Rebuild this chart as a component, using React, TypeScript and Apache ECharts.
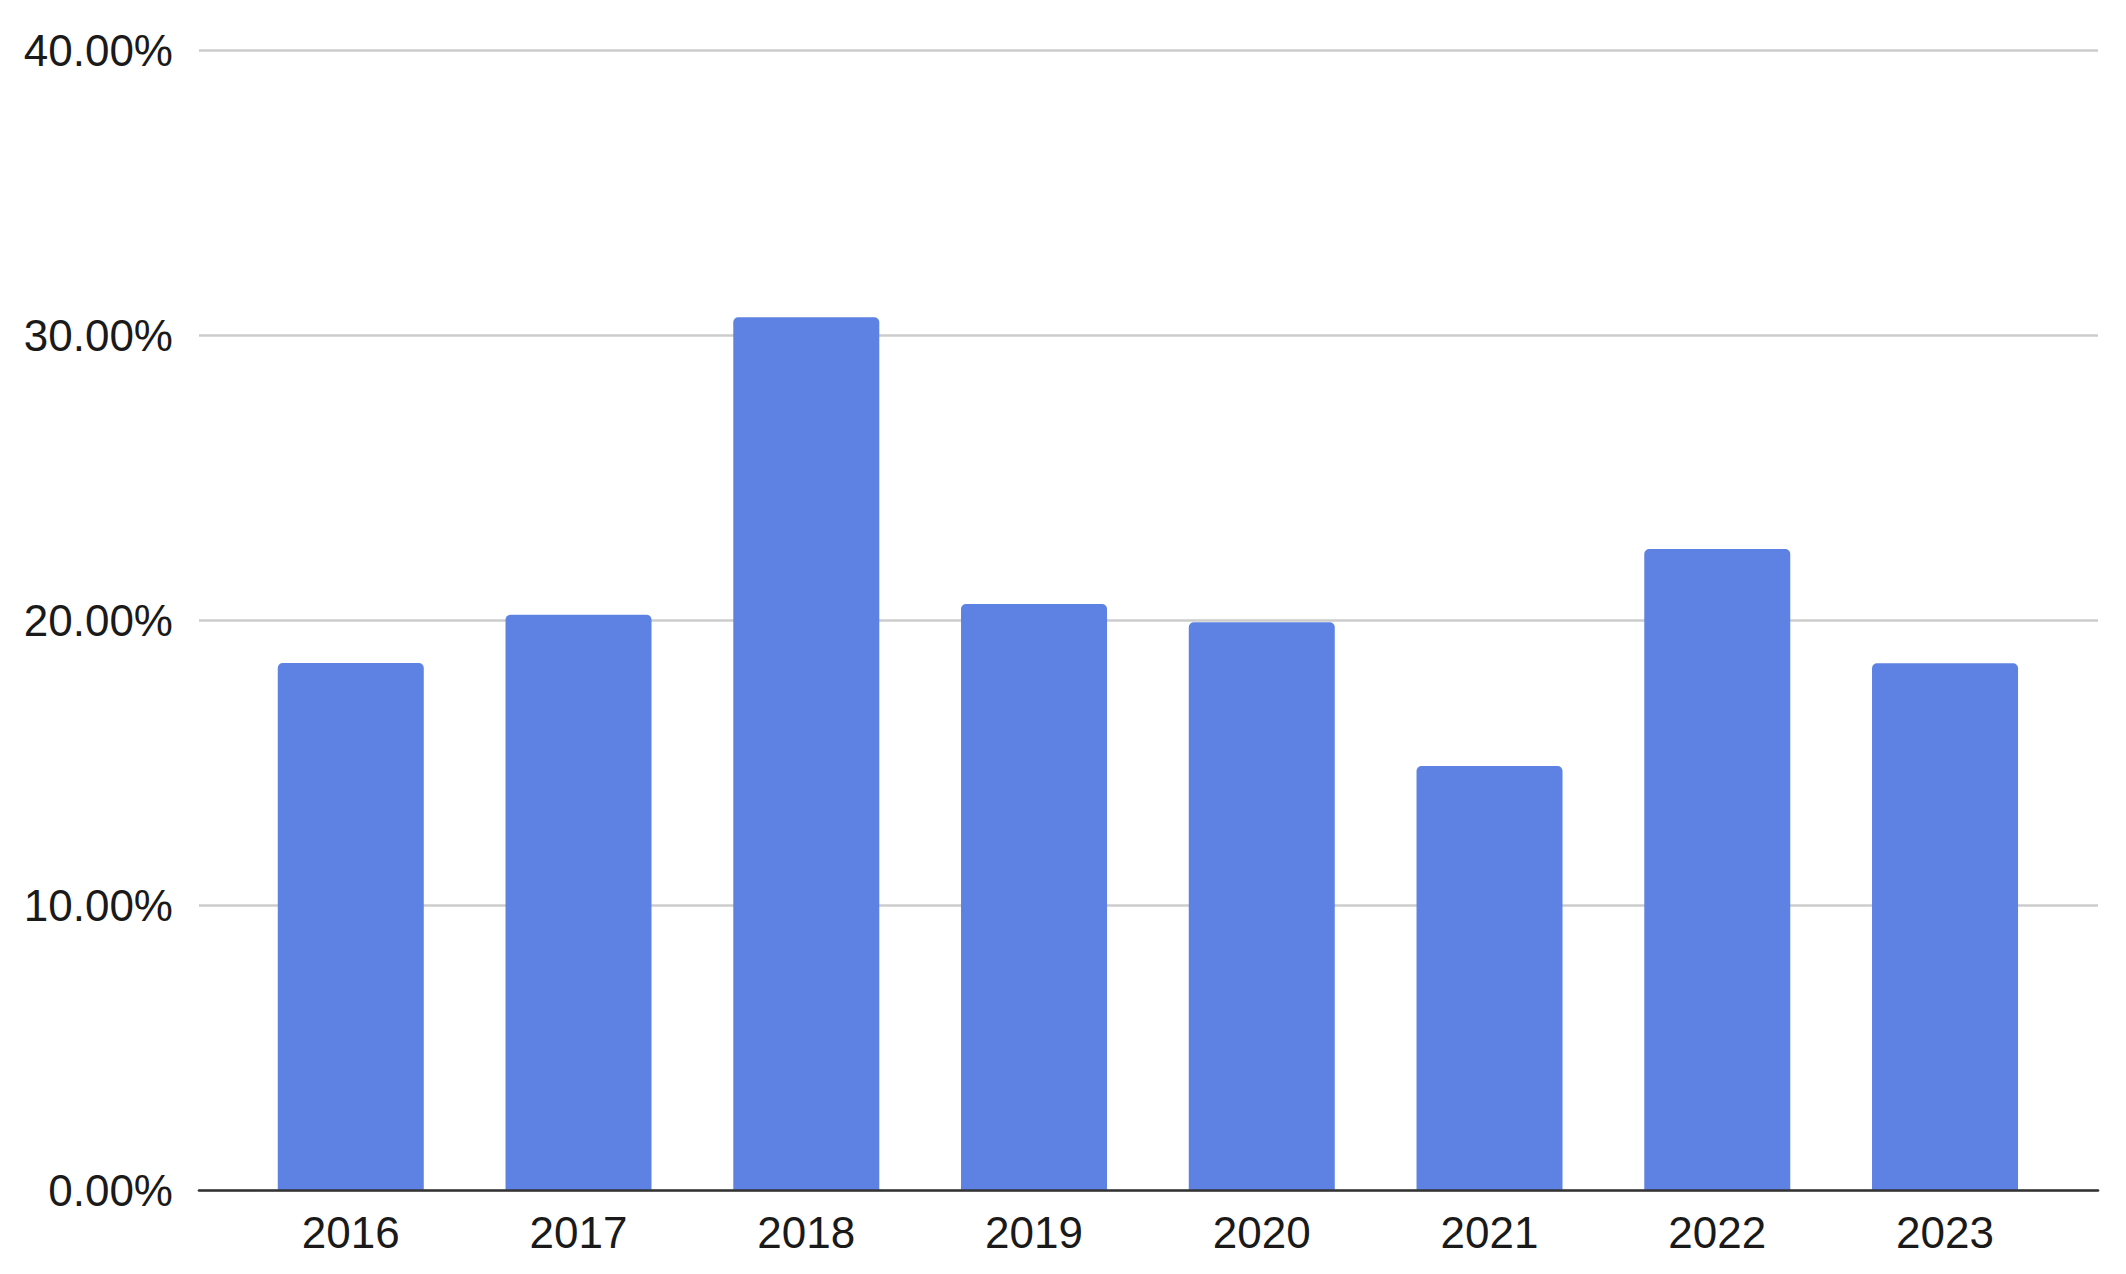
import { useEffect, useRef } from 'react';
import * as echarts from 'echarts';
import type { EChartsOption } from 'echarts';

const years = ['2016', '2017', '2018', '2019', '2020', '2021', '2022', '2023'];
const shares = [18.5, 20.19, 30.63, 20.57, 19.93, 14.89, 22.5, 18.49];
const yTicks = [0, 10, 20, 30, 40];

const FONT = '"Liberation Sans", Arial, sans-serif';

export default function App() {
  const chartRef = useRef<HTMLDivElement>(null);

  useEffect(() => {
    if (!chartRef.current) return;
    const chart = echarts.init(chartRef.current, undefined, { renderer: 'svg' });

    const option: EChartsOption = {
      animation: false,
      backgroundColor: '#ffffff',
      textStyle: { fontFamily: FONT },
      grid: [
        // full-width area: gridlines, y labels and the x axis line
        { left: 199, right: 28, top: 50, bottom: 83.5 },
        // narrower area where the bars sit
        { left: 236.9, right: 67.1, top: 50, bottom: 83.5 },
      ],
      xAxis: [
        {
          gridIndex: 0,
          type: 'category',
          data: years,
          z: 5,
          axisLine: { show: true, lineStyle: { color: '#333333', width: 2.7 } },
          axisTick: { show: false },
          axisLabel: { show: false },
          splitLine: { show: false },
        },
        {
          gridIndex: 1,
          type: 'category',
          data: years,
          axisLine: { show: false },
          axisTick: { show: false },
          axisLabel: {
            color: '#1a1a1a',
            fontSize: 44,
            fontFamily: FONT,
            margin: 20,
          },
        },
      ],
      yAxis: [
        {
          gridIndex: 0,
          type: 'value',
          min: yTicks[0],
          max: yTicks[yTicks.length - 1],
          interval: 10,
          axisLine: { show: false },
          axisTick: { show: false },
          axisLabel: {
            color: '#1a1a1a',
            fontSize: 44,
            fontFamily: FONT,
            margin: 26,
            formatter: (v: number) => v.toFixed(2) + '%',
          },
          splitLine: { lineStyle: { color: '#cccccc', width: 2.5 } },
        },
        {
          gridIndex: 1,
          type: 'value',
          min: yTicks[0],
          max: yTicks[yTicks.length - 1],
          show: false,
          splitLine: { show: false },
        },
      ],
      series: [
        {
          type: 'bar',
          xAxisIndex: 1,
          yAxisIndex: 1,
          data: shares,
          barWidth: 146,
          itemStyle: {
            color: '#5e82e3',
            borderRadius: [5, 5, 0, 0],
          },
        },
      ],
    };

    chart.setOption(option);

    const handleResize = () => chart.resize();
    window.addEventListener('resize', handleResize);

    return () => {
      window.removeEventListener('resize', handleResize);
      chart.dispose();
    };
  }, []);

  return (
    <div
      ref={chartRef}
      style={{ position: 'fixed', left: 0, top: 0, width: 2126, height: 1274, background: '#fff' }}
    />
  );
}
